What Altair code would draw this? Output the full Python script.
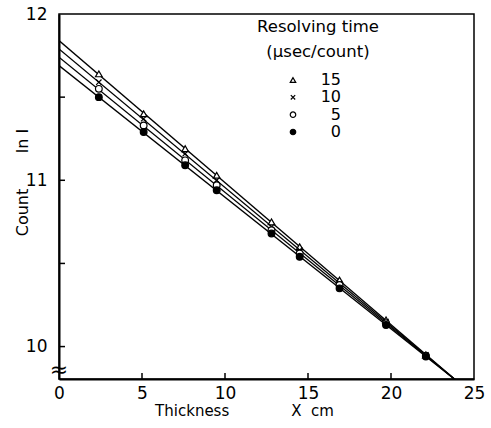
import altair as alt
import pandas as pd

# ---- data ----
thickness = [2.4, 5.1, 7.6, 9.5, 12.8, 14.5, 16.9, 19.7, 22.1]
series_names = ["15", "10", "5", "0"]
count_15 = [11.64, 11.40, 11.19, 11.03, 10.75, 10.60, 10.40, 10.16, 9.95]
count_10 = [11.59, 11.37, 11.16, 11.00, 10.72, 10.58, 10.38, 10.15, 9.95]
count_5 = [11.55, 11.33, 11.12, 10.97, 10.70, 10.56, 10.37, 10.14, 9.945]
count_0 = [11.50, 11.29, 11.09, 10.94, 10.68, 10.54, 10.35, 10.13, 9.94]

# fitted lines: start (x=0) and end values
line_x = [0.0, 24.0]
line_15 = [11.84, 9.79]
line_10 = [11.79, 9.79]
line_5 = [11.74, 9.79]
line_0 = [11.69, 9.79]

x_ticks = [0, 5, 10, 15, 20, 25]
y_ticks = [10, 10.5, 11, 11.5, 12]
legend_title = ["Resolving time", "(\u03bcsec/count)"]
NB = "\u00a0"
x_title = "Thickness" + NB * 13 + "X" + NB * 2 + "cm"
y_title = "Count" + NB * 7 + "ln" + NB + "I"

# ---- tables ----
pts = pd.DataFrame(
    [
        {"x": x, "y": y, "series": s}
        for s, ys in zip(series_names, [count_15, count_10, count_5, count_0])
        for x, y in zip(thickness, ys)
    ]
)
lines = pd.DataFrame(
    [
        {"x": x, "y": y, "series": s}
        for s, ys in zip(series_names, [line_15, line_10, line_5, line_0])
        for x, y in zip(line_x, ys)
    ]
)
leg = pd.DataFrame({"series": series_names})
xt = pd.DataFrame({"v": x_ticks[1:-1]})
yt = pd.DataFrame({"v": y_ticks[:-1]})
titles = pd.DataFrame({"t": legend_title, "row": [0, 1]})

FONT = "DejaVu Sans"
W, H = 415, 365
xdom = [0, 25]
ydom = [9.805, 12]

xs = alt.Scale(domain=xdom, nice=False, zero=False)
ys = alt.Scale(domain=ydom, nice=False, zero=False)

shape_scale = alt.Scale(
    domain=series_names,
    range=["triangle-up", "M-0.8,-0.8L0.8,0.8M-0.8,0.8L0.8,-0.8", "circle", "circle"],
)
fill_scale = alt.Scale(domain=series_names, range=["white", "white", "white", "black"])

line_layer = (
    alt.Chart(lines)
    .mark_line(color="black", strokeWidth=1.3, clip=True)
    .encode(
        x=alt.X(
            "x:Q",
            scale=xs,
            axis=alt.Axis(
                values=x_ticks,
                format="d",
                ticks=False,
                labelFlush=False,
                domainColor="black",
                domainWidth=2,
                labelFontSize=17,
                labelFont=FONT,
                labelColor="black",
                labelPadding=6,
                grid=False,
                title=x_title,
                titleFont=FONT,
                titleFontSize=15,
                titleFontWeight="normal",
                titleColor="black",
                titleX=185,
                titleY=24,
                titleBaseline="top",
            ),
        ),
        y=alt.Y(
            "y:Q",
            scale=ys,
            axis=alt.Axis(
                values=y_ticks,
                labelExpr="datum.value % 1 == 0 ? format(datum.value, 'd') : ''",
                ticks=False,
                labelFlush=False,
                domainColor="black",
                domainWidth=2,
                labelFontSize=17,
                labelFont=FONT,
                labelColor="black",
                labelPadding=12,
                grid=False,
                title=y_title,
                titleFont=FONT,
                titleFontSize=16,
                titleFontWeight="normal",
                titleColor="black",
                titleX=-37,
                titleY=168,
                titleBaseline="middle",
            ),
        ),
        detail="series:N",
    )
)

point_layer = (
    alt.Chart(pts)
    .mark_point(filled=False, stroke="black", strokeWidth=1.2, opacity=1, size=45)
    .encode(
        x=alt.X("x:Q", scale=xs),
        y=alt.Y("y:Q", scale=ys),
        shape=alt.Shape("series:N", scale=shape_scale, legend=None),
        fill=alt.Fill("series:N", scale=fill_scale, legend=None),
    )
)

xtick_layer = alt.Chart(xt).mark_rule(color="black", strokeWidth=1.5).encode(
    x=alt.X("v:Q", scale=xs), y=alt.value(H), y2=alt.value(H - 6)
)
ytick_layer = alt.Chart(yt).mark_rule(color="black", strokeWidth=1.5).encode(
    y=alt.Y("v:Q", scale=ys), x=alt.value(0), x2=alt.value(6)
)
break_layer = alt.Chart(pd.DataFrame({"t": ["\u2248"]})).mark_text(
    fontSize=22, font=FONT, color="black"
).encode(text="t:N", x=alt.value(0), y=alt.value(H - 9))

main = alt.layer(line_layer, point_layer, xtick_layer, ytick_layer, break_layer)

leg_pts = (
    alt.Chart(leg)
    .mark_point(filled=False, stroke="black", strokeWidth=1.2, opacity=1, size=30)
    .encode(
        x=alt.value(234),
        y=alt.Y("series:N", sort=series_names,
                scale=alt.Scale(type="point", range=[66, 118], padding=0), axis=None),
        shape=alt.Shape("series:N", scale=shape_scale, legend=None),
        fill=alt.Fill("series:N", scale=fill_scale, legend=None),
    )
)
leg_txt = (
    alt.Chart(leg)
    .mark_text(align="right", baseline="middle", fontSize=16, font=FONT, color="black")
    .encode(
        x=alt.value(282),
        y=alt.Y("series:N", sort=series_names,
                scale=alt.Scale(type="point", range=[66, 118], padding=0), axis=None),
        text="series:N",
    )
)
leg_title = (
    alt.Chart(titles)
    .mark_text(align="center", baseline="middle", fontSize=16.5, font=FONT, color="black")
    .encode(
        x=alt.value(259),
        y=alt.Y("row:O", scale=alt.Scale(type="point", range=[13, 38], padding=0), axis=None),
        text="t:N",
    )
)

chart = (
    alt.layer(main, leg_pts, leg_txt, leg_title)
    .resolve_scale(y="independent")
    .properties(
        width=W,
        height=H,
        autosize=alt.AutoSizeParams(type="none"),
        padding={"left": 59, "top": 14, "right": 17, "bottom": 49},
        background="white",
    )
    .configure_view(stroke="black", strokeWidth=1.5)
)

chart.save("out.html", embed_options={"renderer": "svg", "actions": False})
